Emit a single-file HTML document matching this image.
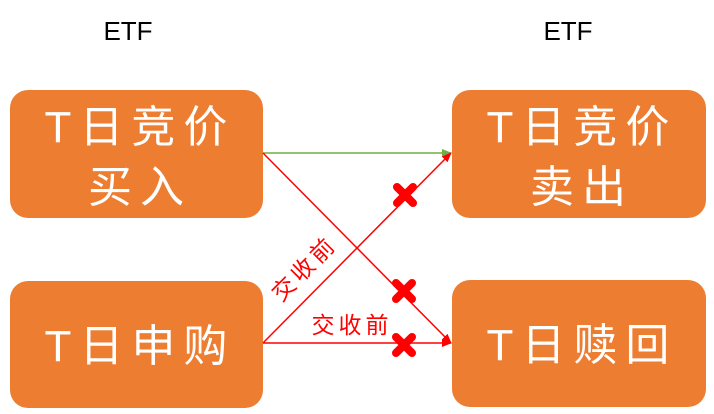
<!DOCTYPE html>
<html><head><meta charset="utf-8"><style>
html,body{margin:0;padding:0;background:#fff;width:714px;height:414px;overflow:hidden}
svg text{font-family:"Liberation Sans","Noto Sans CJK SC",sans-serif}
</style></head><body>
<svg width="714" height="414" viewBox="0 0 714 414" xmlns="http://www.w3.org/2000/svg">
<defs>
<marker id="ag" markerWidth="10" markerHeight="8" refX="9" refY="4" orient="auto" markerUnits="userSpaceOnUse"><path d="M0,0 L10,4 L0,8 z" fill="#70AD47"/></marker>
<marker id="ar" markerWidth="10" markerHeight="8" refX="9" refY="4" orient="auto" markerUnits="userSpaceOnUse"><path d="M0,0 L10,4 L0,8 z" fill="#FF0000"/></marker>
<g id="x"><path d="M-8,-8 L8,8 M8,-8 L-8,8" stroke="#FF0000" stroke-width="8" stroke-linecap="round"/></g>
</defs>
<text x="128" y="40" font-size="26" text-anchor="middle" fill="#000">ETF</text>
<text x="568" y="40" font-size="26" text-anchor="middle" fill="#000">ETF</text>
<g fill="#ED7D31">
<rect x="10" y="90" width="253" height="128" rx="18"/>
<rect x="10" y="281" width="253" height="127" rx="18"/>
<rect x="452" y="90" width="254" height="128" rx="18"/>
<rect x="452" y="280" width="254" height="127" rx="18"/>
</g>
<g fill="#fff" font-size="44" text-anchor="middle" letter-spacing="8">
<text x="140" y="142">T日竞价</text>
<text x="140" y="202">买入</text>
<text x="140" y="361">T日申购</text>
<text x="582" y="142">T日竞价</text>
<text x="582" y="202">卖出</text>
<text x="582" y="360">T日赎回</text>
</g>
<line x1="263" y1="153" x2="451" y2="153" stroke="#70AD47" stroke-width="1.5" marker-end="url(#ag)"/>
<g stroke="#FF0000" stroke-width="1.5">
<line x1="263" y1="153" x2="451" y2="343" marker-end="url(#ar)"/>
<line x1="263" y1="343" x2="451" y2="153" marker-end="url(#ar)"/>
<line x1="263" y1="343" x2="451" y2="343" marker-end="url(#ar)"/>
</g>
<use href="#x" x="405" y="195"/>
<use href="#x" x="404" y="291"/>
<use href="#x" x="404" y="345"/>
<g fill="#FF0000" font-size="23" text-anchor="middle" letter-spacing="4">
<text x="352" y="333">交收前</text>
<text x="0" y="0" transform="translate(310,274) rotate(-45)">交收前</text>
</g>
</svg>
</body></html>
